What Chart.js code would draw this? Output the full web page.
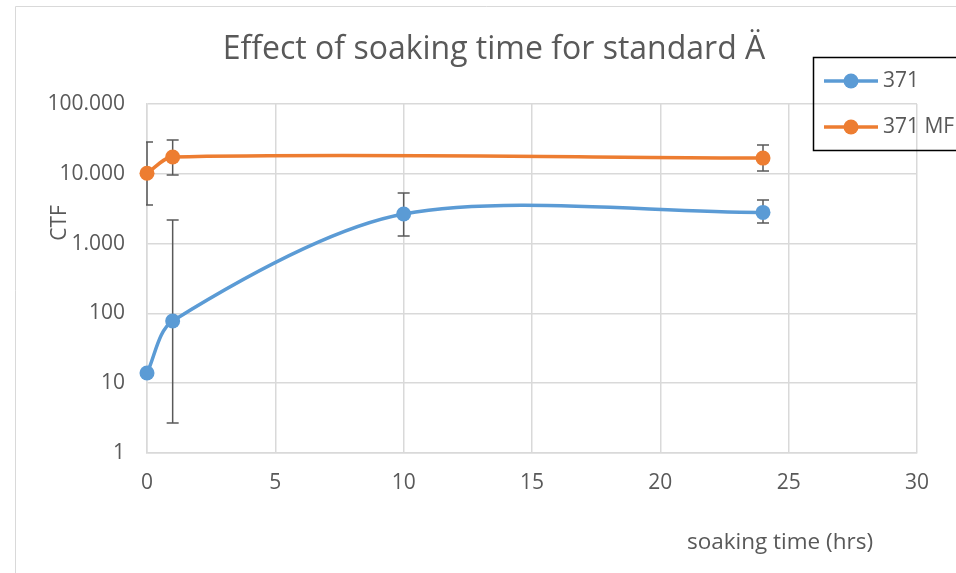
<!DOCTYPE html>
<html>
<head>
<meta charset="utf-8">
<script src="https://cdn.jsdelivr.net/npm/chart.js@4.4.0/dist/chart.umd.min.js"></script>
<style>
  html, body { margin: 0; padding: 0; background: #fff; }
  #wrap { width: 956px; height: 573px; position: relative; }
</style>
</head>
<body>
<div id="wrap"><canvas id="chart" width="956" height="573"></canvas></div>
<script>
// data
const hours371 = [0, 1, 10, 24];
const ctf371 = [14, 78, 2650, 2800];
const ctf371Low = [null, 2.7, 1290, 1970];
const ctf371High = [null, 2180, 5300, 4200];

const hours371MF = [0, 1, 24];
const ctf371MF = [10200, 17400, 16800];
const ctf371MFLow = [3570, 9600, 10970];
const ctf371MFHigh = [28500, 30500, 25900];

const yTicks = [1, 10, 100, 1000, 10000, 100000];
const yTickLabels = ['1', '10', '100', '1.000', '10.000', '100.000'];

const titleText = 'Effect of soaking time for standard Ä';
const xTitle = 'soaking time (hrs)';
const yTitle = 'CTF';

const BLUE = '#5B9BD5';
const ORANGE = '#ED7D31';
const TEXT = '#595959';
const GRID = '#d9d9d9';
const FONT = '"Open Sans", "Noto Sans", sans-serif';

function toPoints(xs, ys) {
  return xs.map((x, i) => ({ x: x, y: ys[i] }));
}

// error bars, drawn through the chart scales
const errorBars = {
  id: 'errorBars',
  beforeDatasetsDraw(chart) {
    const ctx = chart.ctx;
    const xs = chart.scales.x, ys = chart.scales.y;
    const a = chart.chartArea;
    const sets = [
      [hours371, ctf371Low, ctf371High],
      [hours371MF, ctf371MFLow, ctf371MFHigh]
    ];
    ctx.save();
    ctx.beginPath();
    ctx.rect(a.left - 1, a.top - 20, a.right - a.left + 2, a.bottom - a.top + 40);
    ctx.clip();
    ctx.strokeStyle = TEXT;
    ctx.lineWidth = 1.5;
    sets.forEach(([hx, lo, hi]) => {
      hx.forEach((h, i) => {
        if (lo[i] == null) return;
        const px = xs.getPixelForValue(h);
        const y1 = ys.getPixelForValue(lo[i]);
        const y2 = ys.getPixelForValue(hi[i]);
        ctx.beginPath();
        ctx.moveTo(px, y1); ctx.lineTo(px, y2);
        ctx.moveTo(px - 6, y1); ctx.lineTo(px + 6, y1);
        ctx.moveTo(px - 6, y2); ctx.lineTo(px + 6, y2);
        ctx.stroke();
      });
    });
    ctx.restore();
  }
};

// titles, frame and the boxed legend
const decorations = {
  id: 'decorations',
  afterDraw(chart) {
    const ctx = chart.ctx;
    ctx.save();
    ctx.strokeStyle = GRID;
    ctx.lineWidth = 1;
    ctx.beginPath();
    ctx.moveTo(15.5, 600); ctx.lineTo(15.5, 6.5); ctx.lineTo(960, 6.5);
    ctx.stroke();

    ctx.fillStyle = TEXT;
    ctx.textAlign = 'center';
    ctx.textBaseline = 'middle';
    ctx.font = '32px ' + FONT;
    ctx.fillText(titleText, 494, 50);

    ctx.font = '22.5px ' + FONT;
    ctx.fillText(xTitle, 780, 543);

    ctx.save();
    ctx.translate(60, 223);
    ctx.rotate(-Math.PI / 2);
    ctx.font = '21px ' + FONT;
    ctx.fillText(yTitle, 0, 0);
    ctx.restore();

    // legend
    ctx.strokeStyle = '#000';
    ctx.lineWidth = 1.5;
    ctx.strokeRect(813.5, 57.5, 160, 93);
    ctx.textAlign = 'left';
    ctx.font = '21px ' + FONT;
    chart.data.datasets.forEach((ds, i) => {
      const y = 81 + i * 46;
      ctx.strokeStyle = ds.borderColor;
      ctx.lineWidth = 3.5;
      ctx.beginPath(); ctx.moveTo(824, y); ctx.lineTo(878, y); ctx.stroke();
      ctx.fillStyle = ds.borderColor;
      ctx.beginPath(); ctx.arc(851, y, 7.5, 0, Math.PI * 2); ctx.fill();
      ctx.fillStyle = TEXT;
      ctx.fillText(ds.label, 883, y);
    });
    ctx.restore();
  }
};

new Chart(document.getElementById('chart'), {
  type: 'line',
  data: {
    datasets: [
      {
        label: '371',
        data: toPoints(hours371, ctf371),
        borderColor: BLUE, backgroundColor: BLUE,
        borderWidth: 3.5, pointRadius: 7.5, pointHoverRadius: 7.5,
        pointBorderWidth: 0, tension: 0.3, clip: false
      },
      {
        label: '371 MF',
        data: toPoints(hours371MF, ctf371MF),
        borderColor: ORANGE, backgroundColor: ORANGE,
        borderWidth: 3.5, pointRadius: 7.5, pointHoverRadius: 7.5,
        pointBorderWidth: 0, tension: 0.3, clip: false
      }
    ]
  },
  options: {
    responsive: false,
    animation: false,
    events: [],
    layout: { padding: { left: 0, top: 104, right: 39, bottom: 0 } },
    plugins: { legend: { display: false }, title: { display: false }, tooltip: { enabled: false } },
    scales: {
      x: {
        type: 'linear', min: 0, max: 30,
        ticks: { stepSize: 5, color: TEXT, font: { family: FONT, size: 21 }, padding: 17 },
        grid: { color: GRID, lineWidth: 1.5, drawTicks: false },
        border: { color: GRID, width: 1.5 },
        afterFit(scale) { scale.height = 120; }
      },
      y: {
        type: 'logarithmic', min: 1, max: 100000,
        afterBuildTicks(scale) { scale.ticks = yTicks.map(v => ({ value: v })); },
        ticks: {
          color: TEXT, font: { family: FONT, size: 21 }, padding: 22,
          callback: (v) => yTickLabels[yTicks.indexOf(v)]
        },
        grid: { color: GRID, lineWidth: 1.5, drawTicks: false },
        border: { color: GRID, width: 1.5 },
        afterFit(scale) { scale.width = 147; }
      }
    }
  },
  plugins: [errorBars, decorations]
});
</script>
</body>
</html>
